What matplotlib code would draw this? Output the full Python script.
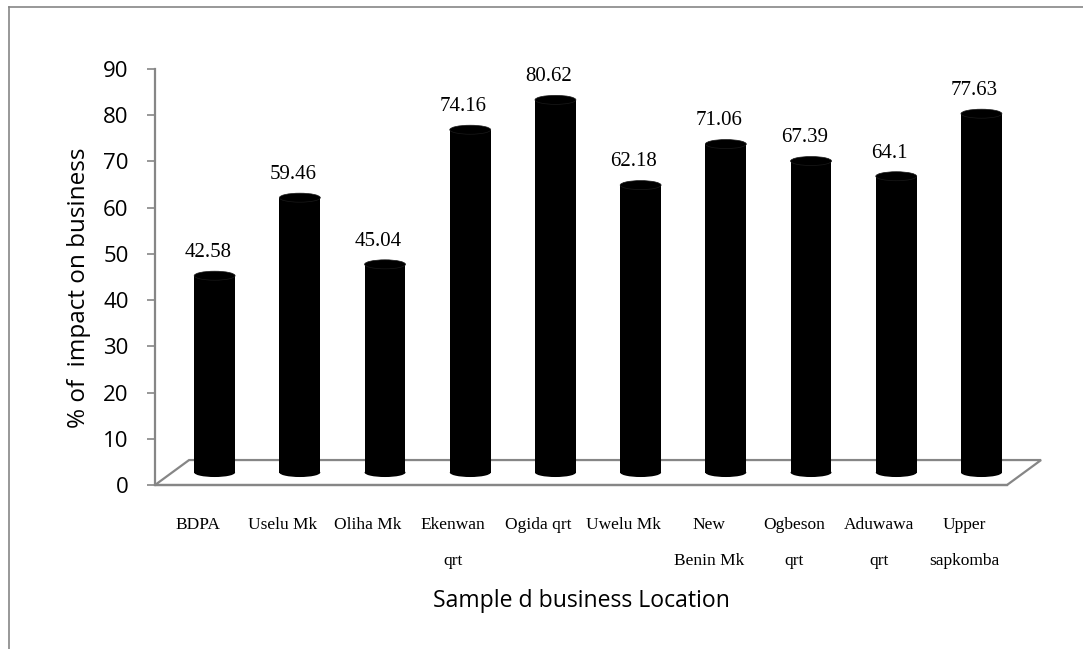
import matplotlib
matplotlib.use("Agg")
import matplotlib.pyplot as plt
from matplotlib.patches import Rectangle, Ellipse, Polygon
from matplotlib.lines import Line2D

# data
locations = ["BDPA", "Uselu Mk", "Oliha Mk", "Ekenwan\nqrt", "Ogida qrt",
             "Uwelu Mk", "New\nBenin Mk", "Ogbeson\nqrt", "Aduwawa\nqrt",
             "Upper\nsapkomba"]
impact = [42.58, 59.46, 45.04, 74.16, 80.62, 62.18, 71.06, 67.39, 64.1, 77.63]
yticks = [0, 10, 20, 30, 40, 50, 60, 70, 80, 90]

GRAY = "#868686"
W, H = 1083, 649

fig = plt.figure(figsize=(W / 100, H / 100), dpi=100)
ax = fig.add_axes([155 / W, (H - 485) / H, 852 / W, 416 / H])
ax.set_xlim(-0.5, 9.5)
ax.set_ylim(0, 90)

# 3d depth offsets (back plane), in data units
depth_x, depth_y = 0.4, 5.4
mid_x, mid_y = depth_x / 2, depth_y / 2

# floor of the 3d box
floor = Polygon([(-0.5, 0), (9.5, 0), (9.5 + depth_x, depth_y), (-0.5 + depth_x, depth_y)],
                closed=True, fill=False, edgecolor=GRAY, lw=1.6, zorder=1, clip_on=False)
ax.add_patch(floor)

# cylinders
bw = 0.48
eh = 1.95
for i, v in enumerate(impact):
    cx = i + mid_x
    ax.add_patch(Rectangle((cx - bw / 2, mid_y), bw, v, facecolor="black",
                           edgecolor="none", zorder=3, clip_on=False))
    ax.add_patch(Ellipse((cx, mid_y), bw, eh, facecolor="black",
                         edgecolor="none", zorder=3, clip_on=False))
    ax.add_patch(Ellipse((cx, mid_y + v), bw, eh, facecolor="black",
                         edgecolor="#1a1a1a", lw=0.5, zorder=4, clip_on=False))
    ax.text(i + 0.12, v + 6.75, f"{v:g}", ha="center", va="baseline",
            family="Liberation Serif", fontsize=15, zorder=5)

for s in ["top", "right"]:
    ax.spines[s].set_visible(False)
ax.spines["left"].set_color(GRAY)
ax.spines["left"].set_linewidth(1.6)
ax.spines["bottom"].set_color(GRAY)
ax.spines["bottom"].set_linewidth(1.6)

ax.set_yticks(yticks)
ax.set_yticklabels([str(t) for t in yticks], family="Open Sans", fontsize=16)
ax.tick_params(axis="y", length=6, width=1.2, color=GRAY, pad=13)

ax.set_xticks(range(len(locations)))
ax.set_xticklabels(locations, family="Liberation Serif", fontsize=12.5, linespacing=2.7)
ax.tick_params(axis="x", length=0, pad=23)

fig.text(79 / W, 1 - 288 / H, "% of  impact on business", rotation=90,
         ha="center", va="center", family="Open Sans", fontsize=17.5)
fig.text(581 / W, 1 - 607 / H, "Sample d business Location", ha="center",
         va="baseline", family="Open Sans", fontsize=16.6)

# chart border (only top and left show in the crop)
fig.add_artist(Line2D([9 / W, 1], [1 - 7 / H, 1 - 7 / H], color=GRAY, lw=1.2))
fig.add_artist(Line2D([9 / W, 9 / W], [0, 1 - 7 / H], color=GRAY, lw=1.2))

fig.savefig("out.png", dpi=100)
